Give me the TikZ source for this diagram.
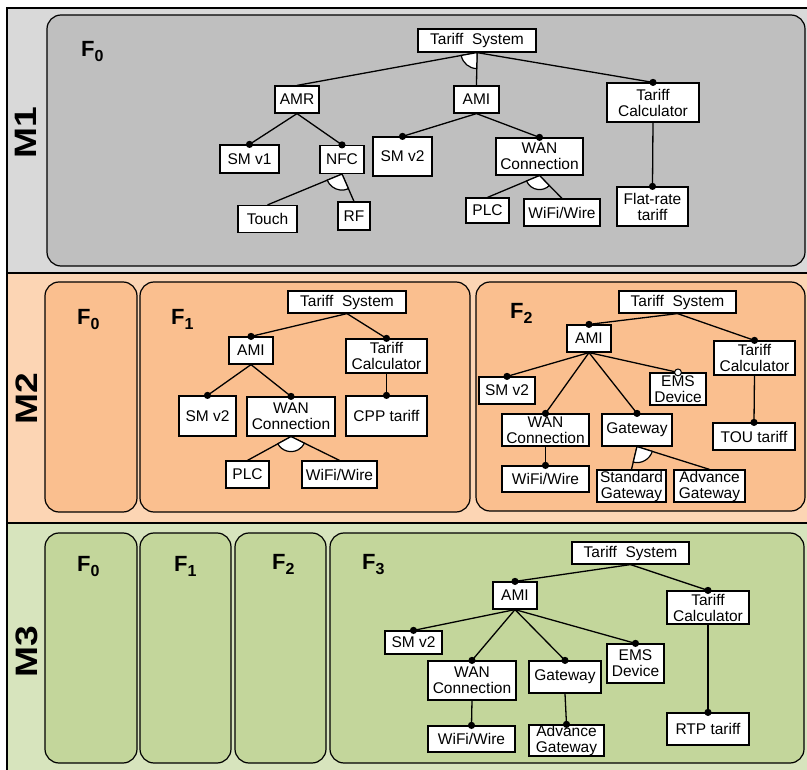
\documentclass[tikz,border=0pt]{standalone}
\usepackage{fontspec}
\setmainfont{Liberation Sans}
\usetikzlibrary{calc}
\definecolor{bandA}{HTML}{D9D9D9}
\definecolor{innerA}{HTML}{BFBFBF}
\definecolor{bandB}{HTML}{FCD5B4}
\definecolor{innerB}{HTML}{FABF8F}
\definecolor{bandC}{HTML}{D7E4BD}
\definecolor{innerC}{HTML}{C3D69B}
\newcommand\fmdot[1]{\fill (#1.north) circle[radius=3.6pt];}
\newcommand\fmodot[1]{\filldraw[fill=white,draw=black,line width=1pt] (#1.north) circle[radius=3.4pt];}
\newcommand\fmarc[4]{\filldraw[fill=white,draw=black,line width=1.2pt] let \p1=($(#2.north)-(#1.south)$), \p2=($(#3.north)-(#1.south)$), \n1={atan2(\y1,\x1)}, \n2={atan2(\y2,\x2)} in (#1.south) -- ++(\n1:#4) arc[start angle=\n1, end angle=\n2, radius=#4] -- cycle;}
\begin{document}
\begin{tikzpicture}[x=1pt,y=-1pt,
  fb/.style 2 args={draw=black, fill=white, line width=1.2pt, minimum width=#1pt, minimum height=#2pt, inner sep=0pt, align=center, font=\fontsize{15.5}{16}\selectfont},
  conn/.style={line width=1.3pt},
  fbox/.style={draw=black, line width=1.2pt, rounded corners=14pt},
  flab/.style={anchor=base west, inner sep=0pt, font=\fontsize{22}{22}\selectfont\bfseries},
  mlab/.style={rotate=90, inner sep=0pt, font=\fontsize{31}{31}\selectfont\bfseries}]
\useasboundingbox (0,0) rectangle (807,770);
\fill[white] (0,0) rectangle (807,770);
% bands
\fill[bandA] (7,8) rectangle (812,273);
\fill[bandB] (7,273) rectangle (812,523);
\fill[bandC] (7,523) rectangle (812,775);
\draw[line width=1.3pt] (7,775) -- (7,8) -- (812,8);
\draw[line width=1.3pt] (7,273) -- (812,273);
\draw[line width=1.3pt] (7,523) -- (812,523);
% frames
\draw[fbox, fill=innerA] (47,15) rectangle (805,266);
\draw[fbox, fill=innerB] (45,282) rectangle (137,512);
\draw[fbox, fill=innerB] (140,282) rectangle (470,512);
\draw[fbox, fill=innerB] (476,282) rectangle (805,511);
\draw[fbox, fill=innerC] (45,533) rectangle (137,763);
\draw[fbox, fill=innerC] (140,533) rectangle (231,763);
\draw[fbox, fill=innerC] (235,533) rectangle (326,763);
\draw[fbox, fill=innerC] (330,533) rectangle (804,763);
% M labels
\node[mlab] (m1) at (26,132.5) {\scalebox{1.2}[1]{M1}};
\node[mlab] (m2) at (26.5,398.5) {\scalebox{1.2}[1]{M2}};
\node[mlab] (m3) at (26.5,651.5) {\scalebox{1.2}[1]{M3}};
% F labels
\newcommand\flabtext[1]{F\raisebox{-5pt}{\fontsize{16}{16}\selectfont #1}}
\node[flab] (f10) at (81,57) {\flabtext{0}};
\node[flab] (f20) at (77,325) {\flabtext{0}};
\node[flab] (f21) at (171,325) {\flabtext{1}};
\node[flab] (f22) at (510,319) {\flabtext{2}};
\node[flab] (f30) at (77,571) {\flabtext{0}};
\node[flab] (f31) at (174,571) {\flabtext{1}};
\node[flab] (f32) at (272,569) {\flabtext{2}};
\node[flab] (f33) at (362,569) {\flabtext{3}};
% ===== M1 =====
\node[fb={118}{23}] (ts1) at (477,40.5) {Tariff~~System};
\node[fb={44}{27}] (amr) at (297,99.5) {AMR};
\node[fb={45}{27}] (ami1) at (476.5,99.5) {AMI};
\node[fb={92}{39}] (tc1) at (653,102.5) {Tariff\\Calculator};
\node[fb={59}{28}] (smv1) at (249.5,159) {SM v1};
\node[fb={44}{28}] (nfc) at (342,159.5) {NFC};
\node[fb={59}{39}] (smv2a) at (402.5,156.5) {SM v2};
\node[fb={87}{37}] (wan1) at (539.5,156.5) {WAN\\Connection};
\node[fb={59}{27}] (touch) at (267.5,219) {Touch};
\node[fb={32}{28}] (rf) at (354,216) {RF};
\node[fb={43}{25}] (plc1) at (487.5,210.5) {PLC};
\node[fb={76}{27}] (wifi1) at (562,212.5) {WiFi/Wire};
\node[fb={71}{39}] (flat) at (652.5,206.5) {Flat-rate\\tariff};
\draw[conn] (ts1.south) -- (amr.north);
\draw[conn] (ts1.south) -- (ami1.north);
\draw[conn] (ts1.south) -- (tc1.north);
\draw[conn] (amr.south) -- (smv1.north);
\draw[conn] (amr.south) -- (nfc.north);
\draw[conn] (nfc.south) -- (touch.north);
\draw[conn] (nfc.south) -- (rf.north);
\draw[conn] (ami1.south) -- (smv2a.north);
\draw[conn] (ami1.south) -- (wan1.north);
\draw[conn] (wan1.south) -- (plc1.north);
\draw[conn] (wan1.south) -- (wifi1.north);
\draw[conn] (tc1.south) -- (flat.north);
\fmarc{ts1}{amr}{ami1}{16pt}
\fmarc{nfc}{touch}{rf}{16pt}
\fmarc{wan1}{plc1}{wifi1}{14pt}
\fmdot{tc1} \fmdot{smv1} \fmdot{nfc} \fmdot{smv2a} \fmdot{wan1} \fmdot{flat}
% ===== M2 F1 =====
\node[fb={118}{22}] (ts2) at (347,302) {Tariff~~System};
\node[fb={44}{27}] (ami2) at (251,350.5) {AMI};
\node[fb={81}{34}] (tc2) at (386.5,356) {Tariff\\Calculator};
\node[fb={57}{40}] (smv2b) at (207.5,416) {SM v2};
\node[fb={88}{39}] (wan2) at (291,416.5) {WAN\\Connection};
\node[fb={81}{40}] (cpp) at (386.5,416) {CPP tariff};
\node[fb={43}{27}] (plc2) at (247.5,474.5) {PLC};
\node[fb={75}{27}] (wifi2) at (339.5,474.5) {WiFi/Wire};
\draw[conn] (ts2.south) -- (ami2.north);
\draw[conn] (ts2.south) -- (tc2.north);
\draw[conn] (ami2.south) -- (smv2b.north);
\draw[conn] (ami2.south) -- (wan2.north);
\draw[conn] (wan2.south) -- (plc2.north);
\draw[conn] (wan2.south) -- (wifi2.north);
\draw[conn] (tc2.south) -- (cpp.north);
\fmarc{wan2}{plc2}{wifi2}{15pt}
\fmdot{ami2} \fmdot{tc2} \fmdot{smv2b} \fmdot{wan2} \fmdot{cpp}
% ===== M2 F2 =====
\node[fb={117}{22}] (ts3) at (677.5,302) {Tariff~~System};
\node[fb={44}{27}] (ami3) at (589,338.5) {AMI};
\node[fb={81}{34}] (tc3) at (754.5,358) {Tariff\\Calculator};
\node[fb={56}{27}] (smv2c) at (507,390.5) {SM v2};
\node[fb={56}{32}] (ems3) at (678,389) {EMS\\Device};
\node[fb={87}{32}] (wan3) at (545.5,430) {WAN\\Connection};
\node[fb={70}{32}] (gw3) at (637,430) {Gateway};
\node[fb={82}{27}] (tou) at (754,436.5) {TOU tariff};
\node[fb={87}{26}] (wifi3) at (545.5,479) {WiFi/Wire};
\node[fb={69}{32}] (sgw) at (631.5,486) {Standard\\Gateway};
\node[fb={71}{32}] (agw3) at (709.5,486) {Advance\\Gateway};
\draw[conn] (ts3.south) -- (ami3.north);
\draw[conn] (ts3.south) -- (tc3.north);
\draw[conn] (ami3.south) -- (smv2c.north);
\draw[conn] (ami3.south) -- (ems3.north);
\draw[conn] (ami3.south) -- (wan3.north);
\draw[conn] (ami3.south) -- (gw3.north);
\draw[conn] (wan3.south) -- (wifi3.north);
\draw[conn] (gw3.south) -- (sgw.north);
\draw[conn] (gw3.south) -- (agw3.north);
\draw[conn] (tc3.south) -- (tou.north);
\fmarc{gw3}{sgw}{agw3}{16pt}
\fmdot{ami3} \fmdot{tc3} \fmdot{smv2c} \fmdot{wan3} \fmdot{gw3} \fmdot{wifi3} \fmdot{tou}
\fmodot{ems3}
% ===== M3 F3 =====
\node[fb={117}{22}] (ts4) at (630.5,553) {Tariff~~System};
\node[fb={44}{27}] (ami4) at (515,595.5) {AMI};
\node[fb={82}{33}] (tc4) at (708,607.5) {Tariff\\Calculator};
\node[fb={57}{23}] (smv2d) at (413.5,642.5) {SM v2};
\node[fb={57}{39}] (ems4) at (635.5,663.5) {EMS\\Device};
\node[fb={88}{39}] (wan4) at (472,680.5) {WAN\\Connection};
\node[fb={72}{32}] (gw4) at (565,677) {Gateway};
\node[fb={87}{26}] (wifi4) at (471.5,739) {WiFi/Wire};
\node[fb={75}{31}] (agw4) at (566.5,740.5) {Advance\\Gateway};
\node[fb={82}{32}] (rtp) at (708,729) {RTP tariff};
\draw[conn] (ts4.south) -- (ami4.north);
\draw[conn] (ts4.south) -- (tc4.north);
\draw[conn] (ami4.south) -- (smv2d.north);
\draw[conn] (ami4.south) -- (wan4.north);
\draw[conn] (ami4.south) -- (gw4.north);
\draw[conn] (ami4.south) -- (ems4.north);
\draw[conn] (wan4.south) -- (wifi4.north);
\draw[conn] (gw4.south) -- (agw4.north);
\draw[conn] (tc4.south) -- (rtp.north);
\fmdot{ami4} \fmdot{tc4} \fmdot{smv2d} \fmdot{wan4} \fmdot{gw4} \fmdot{ems4} \fmdot{wifi4} \fmdot{agw4} \fmdot{rtp}
\end{tikzpicture}
\end{document}
